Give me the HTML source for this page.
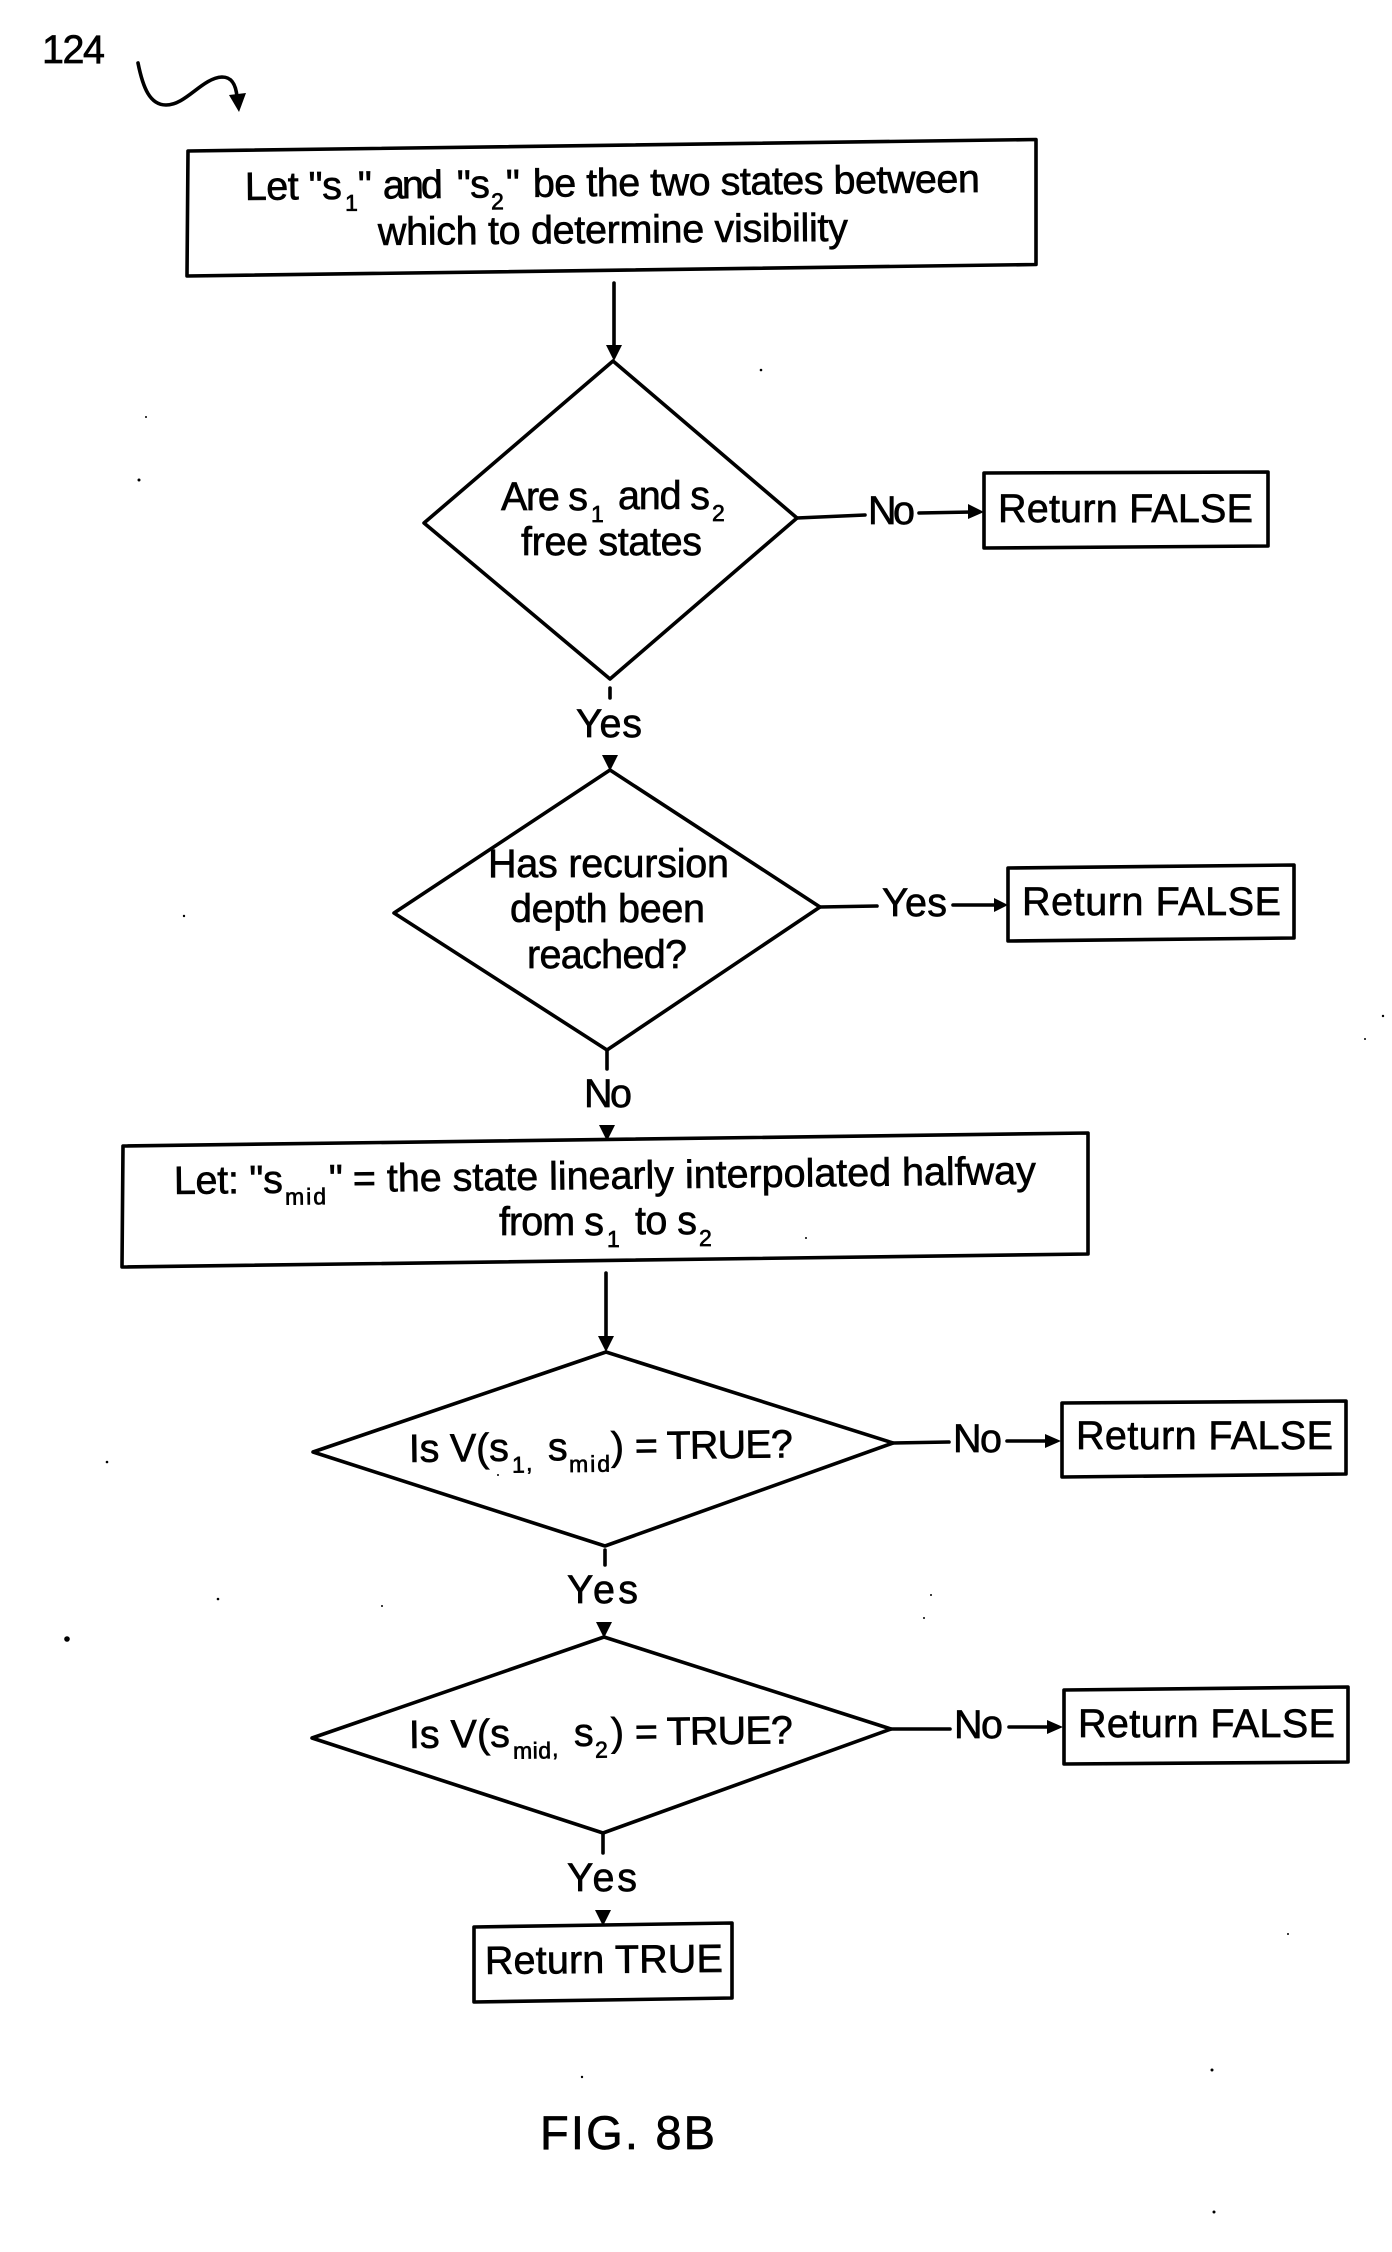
<!DOCTYPE html>
<html>
<head>
<meta charset="utf-8">
<style>
html,body{margin:0;padding:0;background:#fff;}
svg{display:block;}
text{font-family:"Liberation Sans",Arial,sans-serif;fill:#000;stroke:#000;stroke-width:.65px;}
.m{font-size:39.5px;}
.s{font-size:23px;}
.l{fill:none;stroke:#000;stroke-width:3.6;stroke-linejoin:round;stroke-linecap:round;}
.a{fill:#000;stroke:none;}
.d{fill:#000;stroke:none;}
</style>
</head>
<body>
<svg width="1392" height="2252" viewBox="0 0 1392 2252" xmlns="http://www.w3.org/2000/svg">
<rect width="1392" height="2252" fill="#fff"/>

<text class="m" x="42" y="63" textLength="63">124</text>
<path class="l" d="M138 63C143 88 150 105 166 105C186 105 202 78 222 77C232 77 236 85 237 97"/>
<polygon class="a" points="229,95 246,93 239,112"/>

<!-- Box 1 -->
<polygon class="l" points="188,151 1036,139.500 1036,264.500 187,276"/>
<g transform="rotate(-0.62 245 200)">
<text class="m" x="245" y="200" textLength="97">Let "s</text>
<text class="s" x="345" y="212">1</text>
<text class="m" x="358" y="200">"</text>
<text class="m" x="383" y="200" textLength="60">and</text>
<text class="m" x="457" y="200" textLength="33">"s</text>
<text class="s" x="491" y="212">2</text>
<text class="m" x="506" y="200">"</text>
<text class="m" x="533" y="200" textLength="447">be the two states between</text>
</g>
<text class="m" x="378" y="245" textLength="470" transform="rotate(-0.5 378 245)">which to determine visibility</text>

<path class="l" d="M614 283V346"/>
<polygon class="a" points="606,345 622,345 614,361"/>

<!-- Diamond 1 -->
<polygon class="l" points="613,361 797,518 610,679 424,523"/>
<text class="m" x="501" y="510" textLength="87">Are s</text>
<text class="s" x="591" y="522">1</text>
<text class="m" x="618" y="509" textLength="92">and s</text>
<text class="s" x="712" y="521">2</text>
<text class="m" x="521" y="555" textLength="181">free states</text>
<path class="l" d="M797 518L865 515"/>
<text class="m" x="868" y="524" textLength="47">No</text>
<path class="l" d="M919 513L972 512"/>
<polygon class="a" points="968,504 984,512 968,519"/>
<polygon class="l" points="984,473 1268,472 1268,546 984,548"/>
<text class="m" x="998" y="522" textLength="255">Return FALSE</text>

<path class="l" d="M610 688V698"/>
<text class="m" x="576" y="737" textLength="66">Yes</text>
<polygon class="a" points="602,755 618,755 610,771"/>

<!-- Diamond 2 -->
<polygon class="l" points="610,770 820,907 607,1050 394,913"/>
<text class="m" x="488" y="877" textLength="241">Has recursion</text>
<text class="m" x="510" y="922" textLength="195">depth been</text>
<text class="m" x="527" y="968" textLength="160">reached?</text>
<path class="l" d="M820 907L877 906"/>
<text class="m" x="882" y="916" textLength="65">Yes</text>
<path class="l" d="M953 905L998 905"/>
<polygon class="a" points="994,898 1008,905 994,912"/>
<polygon class="l" points="1008,868 1294,865 1294,938 1008,941"/>
<text class="m" x="1022" y="915" textLength="259">Return FALSE</text>

<path class="l" d="M607 1050V1069"/>
<text class="m" x="584" y="1107" textLength="48">No</text>
<polygon class="a" points="599,1125 615,1125 607,1141"/>

<!-- Box 3 -->
<polygon class="l" points="123,1146 1088,1133 1088,1254 122,1267"/>
<g transform="rotate(-0.67 176 1194)">
<text class="m" x="174" y="1194" textLength="109">Let: "s</text>
<text class="s" x="285" y="1206" textLength="41">mid</text>
<text class="m" x="329" y="1194">"</text>
<text class="m" x="353" y="1194" textLength="683">= the state linearly interpolated halfway</text>
</g>
<text class="m" x="499" y="1235" textLength="105">from s</text>
<text class="s" x="607" y="1247">1</text>
<text class="m" x="635" y="1234" textLength="62">to s</text>
<text class="s" x="699" y="1246">2</text>

<path class="l" d="M606 1273V1337"/>
<polygon class="a" points="598,1336 614,1336 606,1352"/>

<!-- Diamond 3 -->
<polygon class="l" points="606,1352 893,1443 605,1546 313,1452"/>
<g transform="rotate(-0.7 412 1462)">
<text class="m" x="409" y="1462" textLength="100">Is V(s</text>
<text class="s" x="512" y="1474">1</text>
<text class="s" x="526" y="1472">,</text>
<text class="m" x="548" y="1462">s</text>
<text class="s" x="569" y="1474" textLength="41">mid</text>
<text class="m" x="611" y="1462">)</text>
<text class="m" x="635" y="1462" textLength="158">= TRUE?</text>
</g>
<path class="l" d="M893 1443L949 1442"/>
<text class="m" x="953" y="1452" textLength="49">No</text>
<path class="l" d="M1007 1441L1048 1441"/>
<polygon class="a" points="1045,1434 1061,1441 1045,1448"/>
<polygon class="l" points="1062,1403 1346,1401 1346,1474 1062,1477"/>
<text class="m" x="1076" y="1449" textLength="257">Return FALSE</text>

<path class="l" d="M605 1550V1565"/>
<text class="m" x="567" y="1603" textLength="71">Yes</text>
<polygon class="a" points="596,1622 612,1622 604,1638"/>

<!-- Diamond 4 -->
<polygon class="l" points="604,1637 891,1729 603,1833 312,1738"/>
<g transform="rotate(-0.7 411 1748)">
<text class="m" x="409" y="1748" textLength="101">Is V(s</text>
<text class="s" x="513" y="1760" textLength="38">mid</text>
<text class="s" x="552" y="1758">,</text>
<text class="m" x="574" y="1748">s</text>
<text class="s" x="595" y="1760">2</text>
<text class="m" x="611" y="1748">)</text>
<text class="m" x="635" y="1748" textLength="158">= TRUE?</text>
</g>
<path class="l" d="M891 1729L950 1729"/>
<text class="m" x="954" y="1738" textLength="49">No</text>
<path class="l" d="M1009 1727L1050 1727"/>
<polygon class="a" points="1047,1720 1063,1727 1047,1734"/>
<polygon class="l" points="1064,1690 1348,1687 1348,1762 1064,1764"/>
<text class="m" x="1078" y="1737" textLength="257">Return FALSE</text>

<path class="l" d="M603 1833V1853"/>
<text class="m" x="567" y="1891" textLength="70">Yes</text>
<polygon class="a" points="595,1910 611,1910 603,1926"/>

<!-- Return TRUE -->
<polygon class="l" points="474,1927 732,1923 732,1998 474,2002"/>
<text class="m" x="485" y="1974" textLength="238" transform="rotate(-0.5 485 1974)">Return TRUE</text>

<text x="540" y="2149" style="font-size:47px" textLength="175">FIG. 8B</text>

<!-- scan specks -->
<circle class="d" cx="146" cy="417" r="1"/>
<circle class="d" cx="139" cy="480" r="1.500"/>
<circle class="d" cx="761" cy="370" r="1.300"/>
<circle class="d" cx="184" cy="916" r="1.200"/>
<circle class="d" cx="1383" cy="1016" r="1.200"/>
<circle class="d" cx="1365" cy="1039" r="1"/>
<circle class="d" cx="810" cy="1159" r="1"/>
<circle class="d" cx="806" cy="1238" r="1"/>
<circle class="d" cx="107" cy="1462" r="1.300"/>
<circle class="d" cx="498" cy="1475" r="1"/>
<circle class="d" cx="218" cy="1599" r="1.300"/>
<circle class="d" cx="382" cy="1606" r="1"/>
<circle class="d" cx="67" cy="1639" r="2.800"/>
<circle class="d" cx="931" cy="1595" r="1"/>
<circle class="d" cx="924" cy="1618" r="1"/>
<circle class="d" cx="1288" cy="1934" r="1"/>
<circle class="d" cx="582" cy="2077" r="1.200"/>
<circle class="d" cx="1212" cy="2070" r="1.500"/>
<circle class="d" cx="1214" cy="2212" r="1.500"/>
</svg>
</body>
</html>
